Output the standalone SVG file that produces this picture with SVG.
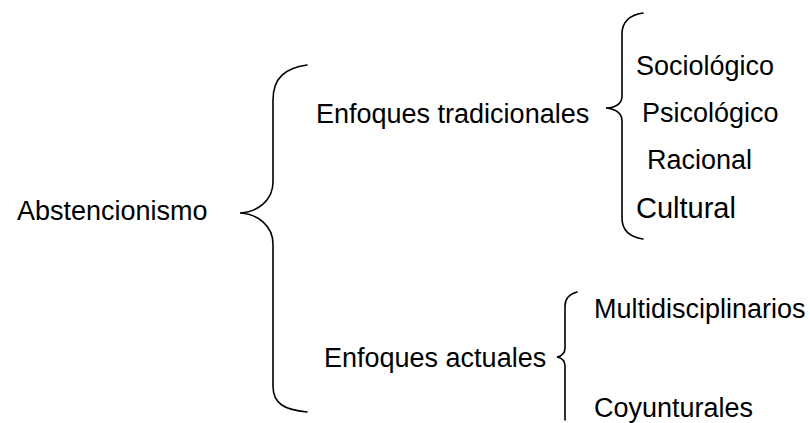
<svg xmlns="http://www.w3.org/2000/svg" width="810" height="423" viewBox="0 0 810 423">
<style>
text{font-family:"Liberation Sans",Arial,sans-serif;font-size:27px;fill:#000}
.b{fill:none;stroke:#000;stroke-width:1.6;stroke-linecap:round}
</style>
<rect width="810" height="423" fill="#fff"/>
<g id="connectors">
<path class="b" d="M307,65 C285,68 273,78 273,100 L273,182 C273,200 258,212 240,213 C258,214 273,226 273,244 L273,386 C273,404 285,410 307,412"/>
<path class="b" d="M643,13 C630,15 622,22 622,34 L622,96 C622,104 615,108 606,108 C615,109 622,113 622,121 L622,218 C622,230 630,237 643,239"/>
<path class="b" d="M577,292 C570,294 565,298 565,306 L565,348 C565,353 562,356 557,357 C562,358 565,361 565,366 L565,420"/>
</g>
<g id="n-abst"><text x="17" y="220">Abstencionismo</text></g>
<g id="n-trad"><text x="316" y="123">Enfoques tradicionales</text></g>
<g id="n-soc"><text x="636" y="75">Sociológico</text></g>
<g id="n-psi"><text x="642" y="122">Psicológico</text></g>
<g id="n-rac"><text x="647" y="169">Racional</text></g>
<g id="n-cul"><text x="636" y="218" style="font-size:29px">Cultural</text></g>
<g id="n-act"><text x="324" y="367">Enfoques actuales</text></g>
<g id="n-mul"><text x="594" y="318">Multidisciplinarios</text></g>
<g id="n-coy"><text x="594" y="417">Coyunturales</text></g>
</svg>
